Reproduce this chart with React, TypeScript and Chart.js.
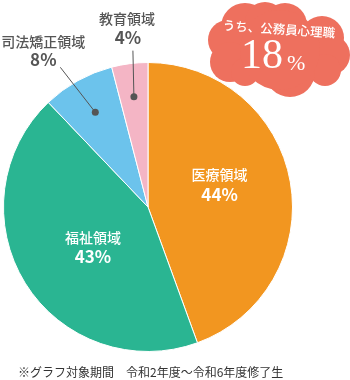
import { useEffect, useRef } from "react";
import { Chart, registerables } from "chart.js";

Chart.register(...registerables);

// Share of graduates by field of employment (%)
const categories = ["医療領域", "福祉領域", "司法矯正領域", "教育領域"];
const shares = [44, 43, 8, 4];
const sliceColors = ["#F29620", "#2AB592", "#6CC3EC", "#F4B5C5"];

// Callout: portion working as public-sector psychologists
const cloudCaption = "うち、公務員心理職";
const publicShare = [18];

const footnote = "※グラフ対象期間　令和2年度～令和6年度修了生";

const JP_FONT = '"Noto Sans CJK JP", "Noto Sans", sans-serif';
const SERIF_FONT = '"Liberation Serif", "DejaVu Serif", serif';
const TEXT_GRAY = "#555555";
const CLOUD_COLOR = "#EE705E";

// Labels drawn inside the slices: angle nudge (deg) and radius fraction
const insideLabels = [
  { index: 0, angleShift: -7.7, radius: 0.52 },
  { index: 1, angleShift: -4, radius: 0.47 },
];

// Labels drawn outside with a leader line to a dot in the slice
const outsideLabels = [
  { index: 2, dotRadius: 0.75, lead: [-35, -45], nameOff: [-17, -26], pctOff: [-17, -8] },
  { index: 3, dotRadius: 0.77, lead: [-1, -46], nameOff: [-6, -32], pctOff: [-5, -13] },
];

// Cloud lobes (centre x, centre y, radius) relative to the cloud origin
const cloudLobes: [number, number, number][] = [
  [33, 27, 24],
  [16, 40, 20],
  [18, 62, 20],
  [33, 72, 14],
  [53, 22, 20],
  [73, 25, 22],
  [110, 38, 22],
  [118, 55, 20],
  [113, 70, 16],
  [78, 72, 25],
  [68, 50, 40],
];

const sliceLabelPlugin = {
  id: "sliceLabels",
  afterDraw(chart: any) {
    const ctx = chart.ctx as CanvasRenderingContext2D;
    const arcs = chart.getDatasetMeta(0).data;
    ctx.save();
    ctx.textAlign = "center";
    ctx.textBaseline = "middle";

    insideLabels.forEach((cfg) => {
      const arc = arcs[cfg.index];
      const p = arc.getProps(["x", "y", "startAngle", "endAngle", "outerRadius"], true);
      const a = (p.startAngle + p.endAngle) / 2 + (cfg.angleShift * Math.PI) / 180;
      const r = p.outerRadius * cfg.radius;
      const cx = p.x + Math.cos(a) * r;
      const cy = p.y + Math.sin(a) * r;
      ctx.fillStyle = "#FFFFFF";
      ctx.font = `500 14px ${JP_FONT}`;
      ctx.fillText(categories[cfg.index], cx, cy - 9);
      ctx.font = `bold 17px ${JP_FONT}`;
      ctx.fillText(`${shares[cfg.index]}%`, cx, cy + 10);
    });

    outsideLabels.forEach((cfg) => {
      const arc = arcs[cfg.index];
      const p = arc.getProps(["x", "y", "startAngle", "endAngle", "outerRadius"], true);
      const a = (p.startAngle + p.endAngle) / 2;
      const r = p.outerRadius * cfg.dotRadius;
      const dx = p.x + Math.cos(a) * r;
      const dy = p.y + Math.sin(a) * r;
      const ex = dx + cfg.lead[0];
      const ey = dy + cfg.lead[1];
      ctx.strokeStyle = TEXT_GRAY;
      ctx.lineWidth = 1;
      ctx.beginPath();
      ctx.moveTo(dx, dy);
      ctx.lineTo(ex, ey);
      ctx.stroke();
      ctx.fillStyle = TEXT_GRAY;
      ctx.beginPath();
      ctx.arc(dx, dy, 3.5, 0, Math.PI * 2);
      ctx.fill();
      ctx.font = `500 14px ${JP_FONT}`;
      ctx.fillText(categories[cfg.index], ex + cfg.nameOff[0], ey + cfg.nameOff[1]);
      ctx.font = `bold 17px ${JP_FONT}`;
      ctx.fillText(`${shares[cfg.index]}%`, ex + cfg.pctOff[0], ey + cfg.pctOff[1]);
    });

    // Cloud callout
    const ox = 212;
    const oy = 0;
    ctx.fillStyle = CLOUD_COLOR;
    cloudLobes.forEach(([lx, ly, lr]) => {
      ctx.beginPath();
      ctx.arc(ox + lx, oy + ly, lr, 0, Math.PI * 2);
      ctx.fill();
    });
    ctx.fillStyle = "#FFFFFF";
    ctx.save();
    ctx.translate(ox + 67, oy + 29);
    ctx.rotate((4 * Math.PI) / 180);
    ctx.font = `500 12.5px ${JP_FONT}`;
    ctx.fillText(cloudCaption, 0, 0);
    ctx.restore();
    ctx.textBaseline = "alphabetic";
    ctx.textAlign = "right";
    ctx.font = `42px ${SERIF_FONT}`;
    ctx.fillText(String(publicShare[0]), ox + 71, oy + 68);
    ctx.textAlign = "left";
    ctx.font = `22px ${SERIF_FONT}`;
    ctx.fillText("%", ox + 75, oy + 70);

    // Footnote
    ctx.fillStyle = "#333333";
    ctx.textAlign = "left";
    ctx.textBaseline = "middle";
    ctx.font = `12px ${JP_FONT}`;
    ctx.fillText(footnote, 18, 372);
    ctx.restore();
  },
};

export default function App() {
  const canvasRef = useRef<HTMLCanvasElement | null>(null);

  useEffect(() => {
    if (!canvasRef.current) return;
    const chart = new Chart(canvasRef.current, {
      type: "pie",
      data: {
        labels: categories,
        datasets: [
          {
            data: shares,
            backgroundColor: sliceColors,
            borderColor: "#FFFFFF",
            borderWidth: 1,
          },
        ],
      },
      options: {
        responsive: false,
        animation: false,
        layout: { padding: { left: 3, right: 57, top: 62, bottom: 28 } },
        plugins: {
          legend: { display: false },
          tooltip: { enabled: false },
        },
      },
      plugins: [sliceLabelPlugin],
    });
    return () => chart.destroy();
  }, []);

  return (
    <div style={{ position: "fixed", left: 0, top: 0, width: 350, height: 380, background: "#FFFFFF" }}>
      <canvas ref={canvasRef} width={350} height={380} style={{ width: 350, height: 380, display: "block" }} />
    </div>
  );
}
